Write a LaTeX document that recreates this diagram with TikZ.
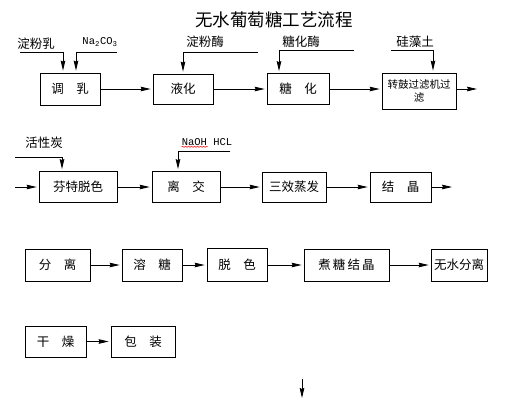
\documentclass[tikz,border=0pt]{standalone}
\usepackage{fontspec}
\setmainfont{Noto Sans CJK SC}
\newfontfamily\latinmono{Liberation Mono}
\usetikzlibrary{arrows.meta,decorations.pathmorphing}

\begin{document}
\begin{tikzpicture}[x=1pt,y=-1pt,
    box/.style={draw,line width=0.8pt,inner sep=0pt,font=\fontsize{12.5}{14}\selectfont},
    arr/.style={line width=0.8pt,shorten >=2pt,-{Stealth[length=10pt,width=4.6pt,inset=1pt]}},
    lbl/.style={inner sep=0pt,font=\fontsize{12.5}{14}\selectfont}]
    \useasboundingbox (0,0) rectangle (508,408);
    \node[font=\fontsize{17.5}{20}\selectfont] (title) at (274,20) {无水葡萄糖工艺流程};

    \node[box,minimum width=60pt,minimum height=32pt] (tiaoru) at (70,89) {调\quad 乳};
    \node[box,minimum width=60pt,minimum height=30pt] (yehua) at (183,89) {液化};
    \node[box,minimum width=62pt,minimum height=31pt] (tanghua) at (298,89) {糖\quad 化};
    \node[box,minimum width=74pt,minimum height=36pt,align=center,
        font=\fontsize{10.5}{13}\selectfont] (guolv) at (419,91) {转鼓过滤机过\\滤};
    \coordinate (out1) at (479,89);
    \draw[arr] (tiaoru) -- (yehua);
    \draw[arr] (yehua) -- (tanghua);
    \draw[arr] (tanghua.east) -- (tanghua.east -| guolv.west);
    \draw[arr] (guolv.east |- out1) -- (out1);

    \node[lbl] (dfr) at (36,44) {淀粉乳};
    \node[lbl,font=\fontsize{10.5}{12}\latinmono] (na) at (100,42) {Na\textsubscript{2}CO\textsubscript{3}};
    \node[lbl] (dfm) at (205,42) {淀粉酶};
    \node[lbl] (thm) at (301,42) {糖化酶};
    \node[lbl] (gzt) at (415,42) {硅藻土};
    \coordinate (dfr0) at (20,52);
    \coordinate (na0) at (117,52);
    \coordinate (dfm0) at (258,52);
    \coordinate (thm0) at (354,50);
    \coordinate (gzt0) at (391,50);
    \draw[arr] (dfr0) -| ([xshift=-7pt]tiaoru.north);
    \draw[arr] (na0) -| ([xshift=6pt]tiaoru.north);
    \draw[arr] (dfm0) -| (yehua.north);
    \draw[arr] (thm0) -| ([xshift=-19pt]tanghua.north);
    \draw[arr] (gzt0) -| ([xshift=14pt]guolv.north);

    \node[box,minimum width=78pt,minimum height=31pt] (fente) at (78,187) {芬特脱色};
    \node[box,minimum width=68pt,minimum height=31pt] (lijiao) at (186,187) {离\quad 交};
    \node[box,minimum width=64pt,minimum height=30pt] (sanxiao) at (294,187) {三效蒸发};
    \node[box,minimum width=61pt,minimum height=30pt] (jiejing) at (400.5,187) {结\quad 晶};
    \coordinate (in2) at (15,187);
    \coordinate (out2) at (454,187);
    \draw[arr] (in2) -- (fente);
    \draw[arr] (fente) -- (lijiao);
    \draw[arr] (lijiao) -- (sanxiao);
    \draw[arr] (sanxiao) -- (jiejing);
    \draw[arr] (jiejing) -- (out2);

    \node[lbl] (hxt) at (44,143) {活性炭};
    \node[lbl,font=\fontsize{10.5}{12}\latinmono] (naoh) at (207,142) {NaOH HCL};
    \coordinate (hxt0) at (15,157);
    \coordinate (naoh0) at (230,151);
    \draw[arr] (hxt0) -| ([xshift=-16pt]fente.north);
    \draw[arr] (naoh0) -| ([xshift=-8pt]lijiao.north);
    \draw[red,line width=0.5pt,decorate,decoration={snake,amplitude=0.6pt,segment length=3pt}]
        ([xshift=0pt,yshift=-1pt]naoh.south west) -- ++(26,0);

    \node[box,minimum width=65pt,minimum height=32pt] (fenli) at (57.5,265) {分\quad 离};
    \node[box,minimum width=60pt,minimum height=32pt] (rongtang) at (152,265) {溶\quad 糖};
    \node[box,minimum width=60pt,minimum height=33pt] (tuose) at (237,265) {脱\quad 色};
    \node[box,minimum width=85pt,minimum height=32pt] (zhutang) at (346.5,265) {煮\,糖\,结\,晶};
    \node[box,minimum width=56pt,minimum height=32pt] (wushui) at (459,265) {无水分离};
    \draw[arr] (fenli) -- (rongtang);
    \draw[arr] (rongtang) -- (tuose);
    \draw[arr] (tuose) -- (zhutang);
    \draw[arr] (zhutang) -- (wushui);

    \node[box,minimum width=61pt,minimum height=31pt] (ganzao) at (55.5,341.5) {干\quad 燥};
    \node[box,minimum width=64pt,minimum height=31pt] (baozhuang) at (143,341.5) {包\quad 装};
    \draw[arr] (ganzao) -- (baozhuang);

    \coordinate (dn0) at (302,379);
    \coordinate (dn1) at (302,400);
    \draw[arr] (dn0) -- (dn1);
\end{tikzpicture}
\end{document}
